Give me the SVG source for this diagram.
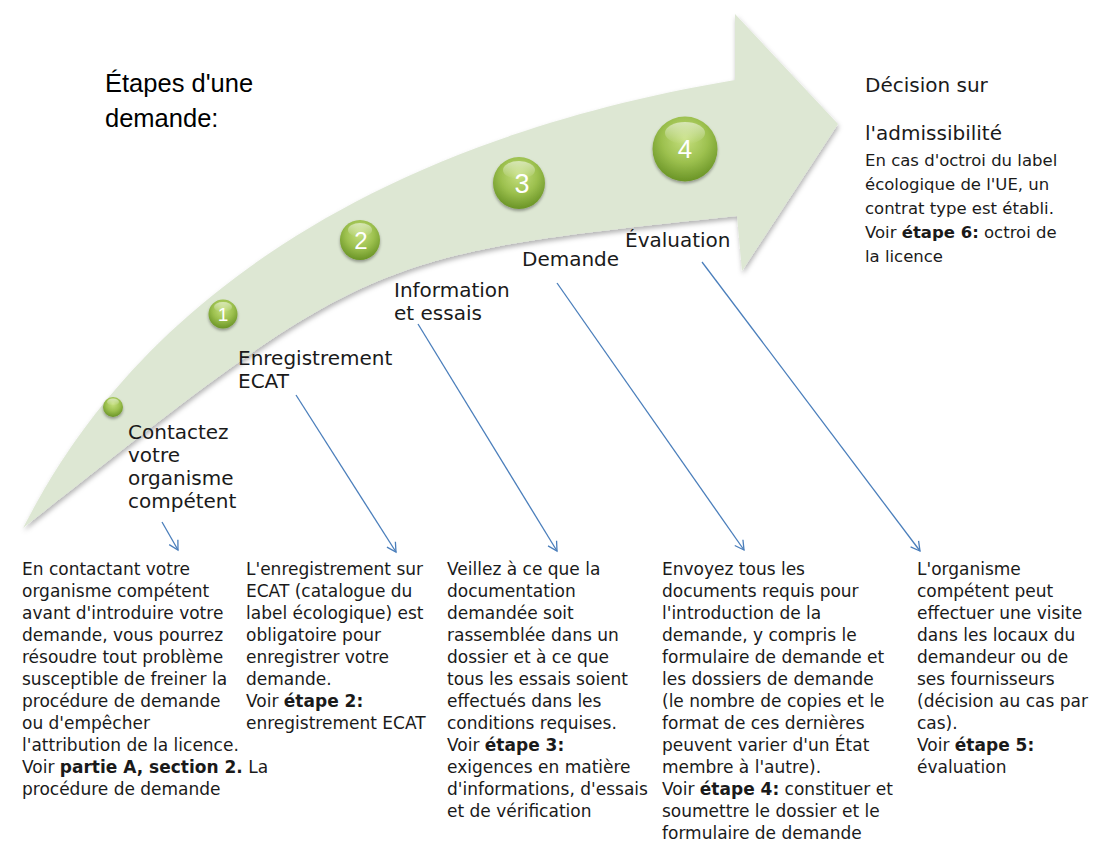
<svg xmlns="http://www.w3.org/2000/svg" width="1102" height="841" viewBox="0 0 1102 841">
<defs>
<filter id="sh" x="-10%" y="-10%" width="120%" height="120%"><feDropShadow dx="1" dy="3" stdDeviation="2.5" flood-color="#000" flood-opacity="0.3"/></filter>
<filter id="csh" x="-30%" y="-30%" width="160%" height="160%"><feDropShadow dx="0" dy="2" stdDeviation="1.5" flood-color="#000" flood-opacity="0.35"/></filter>
<radialGradient id="ball" cx="50%" cy="35%" r="65%">
<stop offset="0" stop-color="#c6e07f"/>
<stop offset="0.55" stop-color="#9cc04e"/>
<stop offset="1" stop-color="#6a9426"/>
</radialGradient>
<linearGradient id="hl" x1="0" y1="0" x2="0" y2="1">
<stop offset="0" stop-color="#fff" stop-opacity="0.55"/>
<stop offset="1" stop-color="#fff" stop-opacity="0"/>
</linearGradient>
<marker id="ah" markerWidth="14" markerHeight="14" refX="10" refY="6" orient="auto" markerUnits="userSpaceOnUse">
<path d="M1,1 L10,6 L1,11" fill="none" stroke="#4a7ebb" stroke-width="1.3"/>
</marker>
</defs>
<style>
.t{font-family:"DejaVu Sans",sans-serif;fill:#1a1a1a}
.b{font-size:17px}
.s{font-size:20px}
.r{font-size:16.5px}
.n{font-family:"Liberation Sans",sans-serif;fill:#fff;text-anchor:middle}
.c{stroke:#4a7ebb;stroke-width:1.3;fill:none}
</style>
<rect width="1102" height="841" fill="#fff"/>
<g id="arrow">
<path d="M23,528 C60,460 200,170 735,80 L735,14 L838,124 L742,271 L737,216 C368,255 368,255 23,528 Z" fill="#dde7d3" filter="url(#sh)"/>
</g>
<g id="title">
<text x="105" y="92" font-family="Liberation Sans, sans-serif" font-size="25.5" fill="#000">Étapes d'une</text>
<text x="105" y="127" font-family="Liberation Sans, sans-serif" font-size="25.5" fill="#000">demande:</text>
</g>
<g id="ball0"><circle cx="113" cy="407" r="10" fill="url(#ball)" filter="url(#csh)"/><ellipse cx="113" cy="402" rx="6" ry="3.5" fill="url(#hl)"/></g>
<g id="ball1"><circle cx="223" cy="314" r="14.5" fill="url(#ball)" filter="url(#csh)"/><ellipse cx="223" cy="307" rx="9" ry="5" fill="url(#hl)"/><text class="n" x="223" y="321" font-size="19">1</text></g>
<g id="ball2"><circle cx="360" cy="240" r="20" fill="url(#ball)" filter="url(#csh)"/><ellipse cx="360" cy="230" rx="12" ry="7" fill="url(#hl)"/><text class="n" x="361" y="249" font-size="24">2</text></g>
<g id="ball3"><circle cx="519" cy="183" r="26" fill="url(#ball)" filter="url(#csh)"/><ellipse cx="519" cy="170" rx="16" ry="9" fill="url(#hl)"/><text class="n" x="522" y="193" font-size="27">3</text></g>
<g id="ball4"><circle cx="685" cy="149" r="32.5" fill="url(#ball)" filter="url(#csh)"/><ellipse cx="685" cy="133" rx="20" ry="11" fill="url(#hl)"/><text class="n" x="685" y="158" font-size="26">4</text></g>
<g id="step0" class="t s">
<text x="128" y="439">Contactez</text>
<text x="128" y="462">votre</text>
<text x="128" y="485">organisme</text>
<text x="128" y="508">compétent</text>
</g>
<g id="step1" class="t s">
<text x="238" y="365">Enregistrement</text>
<text x="238" y="388">ECAT</text>
</g>
<g id="step2" class="t s">
<text x="394" y="297">Information</text>
<text x="394" y="320">et essais</text>
</g>
<g id="step3" class="t s"><text x="522" y="266">Demande</text></g>
<g id="step4" class="t s"><text x="625" y="247">Évaluation</text></g>
<g id="decision" class="t">
<text class="s" x="865" y="92">Décision sur</text>
<text class="s" x="865" y="140">l'admissibilité</text>
<text class="r" x="865" y="166">En cas d'octroi du label</text>
<text class="r" x="865" y="190">écologique de l'UE, un</text>
<text class="r" x="865" y="214">contrat type est établi.</text>
<text class="r" x="865" y="238">Voir <tspan font-weight="bold">étape 6:</tspan> octroi de</text>
<text class="r" x="865" y="262">la licence</text>
</g>
<g id="connectors">
<line class="c" x1="162" y1="522" x2="178" y2="550" marker-end="url(#ah)"/>
<line class="c" x1="296" y1="395" x2="396" y2="552" marker-end="url(#ah)"/>
<line class="c" x1="418" y1="324" x2="557" y2="551" marker-end="url(#ah)"/>
<line class="c" x1="557" y1="283" x2="744" y2="550" marker-end="url(#ah)"/>
<line class="c" x1="702" y1="262" x2="920" y2="551" marker-end="url(#ah)"/>
</g>
<g id="desc1" class="t b">
<text x="22" y="575">En contactant votre</text>
<text x="22" y="597">organisme compétent</text>
<text x="22" y="619">avant d'introduire votre</text>
<text x="22" y="641">demande, vous pourrez</text>
<text x="22" y="663">résoudre tout problème</text>
<text x="22" y="685">susceptible de freiner la</text>
<text x="22" y="707">procédure de demande</text>
<text x="22" y="729">ou d'empêcher</text>
<text x="22" y="751">l'attribution de la licence.</text>
<text x="22" y="773">Voir <tspan font-weight="bold">partie A, section 2.</tspan> La</text>
<text x="22" y="795">procédure de demande</text>
</g>
<g id="desc2" class="t b">
<text x="246" y="575">L'enregistrement sur</text>
<text x="246" y="597">ECAT (catalogue du</text>
<text x="246" y="619">label écologique) est</text>
<text x="246" y="641">obligatoire pour</text>
<text x="246" y="663">enregistrer votre</text>
<text x="246" y="685">demande.</text>
<text x="246" y="707">Voir <tspan font-weight="bold">étape 2:</tspan></text>
<text x="246" y="729">enregistrement ECAT</text>
</g>
<g id="desc3" class="t b">
<text x="447" y="575">Veillez à ce que la</text>
<text x="447" y="597">documentation</text>
<text x="447" y="619">demandée soit</text>
<text x="447" y="641">rassemblée dans un</text>
<text x="447" y="663">dossier et à ce que</text>
<text x="447" y="685">tous les essais soient</text>
<text x="447" y="707">effectués dans les</text>
<text x="447" y="729">conditions requises.</text>
<text x="447" y="751">Voir <tspan font-weight="bold">étape 3:</tspan></text>
<text x="447" y="773">exigences en matière</text>
<text x="447" y="795">d'informations, d'essais</text>
<text x="447" y="817">et de vérification</text>
</g>
<g id="desc4" class="t b">
<text x="662" y="575">Envoyez tous les</text>
<text x="662" y="597">documents requis pour</text>
<text x="662" y="619">l'introduction de la</text>
<text x="662" y="641">demande, y compris le</text>
<text x="662" y="663">formulaire de demande et</text>
<text x="662" y="685">les dossiers de demande</text>
<text x="662" y="707">(le nombre de copies et le</text>
<text x="662" y="729">format de ces dernières</text>
<text x="662" y="751">peuvent varier d'un État</text>
<text x="662" y="773">membre à l'autre).</text>
<text x="662" y="795">Voir <tspan font-weight="bold">étape 4:</tspan> constituer et</text>
<text x="662" y="817">soumettre le dossier et le</text>
<text x="662" y="839">formulaire de demande</text>
</g>
<g id="desc5" class="t b">
<text x="917" y="575">L'organisme</text>
<text x="917" y="597">compétent peut</text>
<text x="917" y="619">effectuer une visite</text>
<text x="917" y="641">dans les locaux du</text>
<text x="917" y="663">demandeur ou de</text>
<text x="917" y="685">ses fournisseurs</text>
<text x="917" y="707">(décision au cas par</text>
<text x="917" y="729">cas).</text>
<text x="917" y="751">Voir <tspan font-weight="bold">étape 5:</tspan></text>
<text x="917" y="773">évaluation</text>
</g>
</svg>
